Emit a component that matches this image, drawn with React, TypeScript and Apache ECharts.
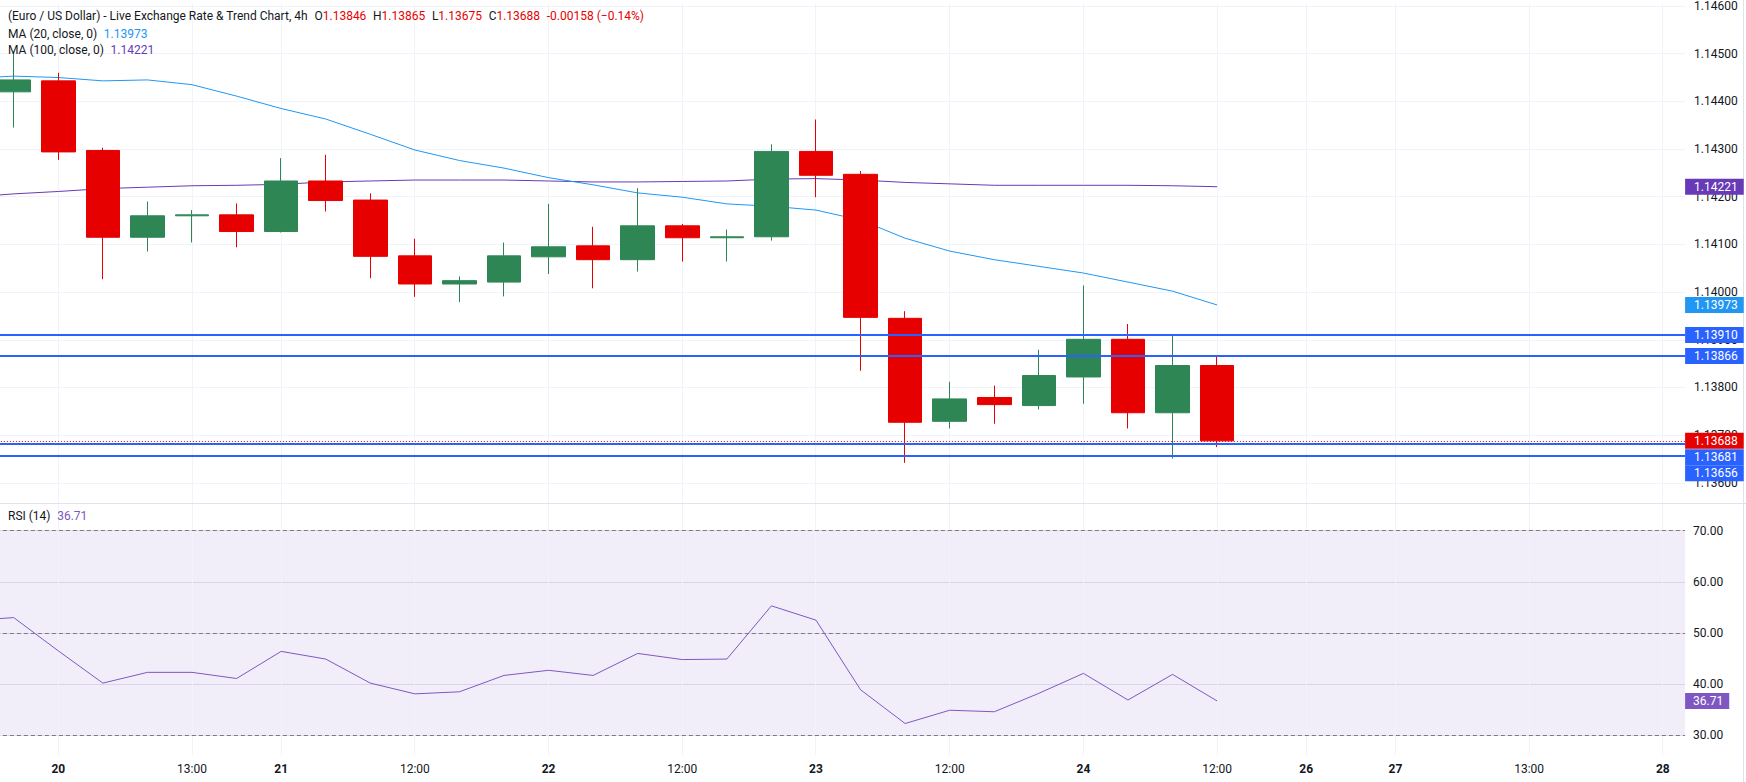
import { useEffect, useRef } from 'react';
import * as echarts from 'echarts';

// ---- data -------------------------------------------------------------
const title = '(Euro / US Dollar) - Live Exchange Rate & Trend Chart, 4h';

// 4h candles, oldest first
const opens = [1.14420, 1.14443, 1.14297, 1.14115, 1.14160, 1.14162, 1.14127, 1.14233, 1.14193, 1.14076,
  1.14017, 1.14021, 1.14074, 1.14097, 1.14068, 1.14139, 1.14114, 1.14116, 1.14295, 1.14247,
  1.13945, 1.13729, 1.13779, 1.13762, 1.13822, 1.13901, 1.13747, 1.13846];
const closes = [1.14445, 1.14294, 1.14115, 1.14160, 1.14162, 1.14127, 1.14233, 1.14192, 1.14075, 1.14017,
  1.14024, 1.14076, 1.14095, 1.14068, 1.14139, 1.14114, 1.14116, 1.14295, 1.14245, 1.13947,
  1.13727, 1.13776, 1.13764, 1.13825, 1.13901, 1.13747, 1.13846, 1.13688];
const lows = [1.14345, 1.14277, 1.14027, 1.14085, 1.14104, 1.14094, 1.14125, 1.14169, 1.14029, 1.13990,
  1.13979, 1.13991, 1.14038, 1.14008, 1.14043, 1.14064, 1.14064, 1.14108, 1.14199, 1.13835,
  1.13642, 1.13714, 1.13724, 1.13754, 1.13766, 1.13714, 1.13651, 1.13675];
const highs = [1.14504, 1.14460, 1.14303, 1.14190, 1.14172, 1.14186, 1.14281, 1.14288, 1.14207, 1.14112,
  1.14033, 1.14104, 1.14185, 1.14137, 1.14218, 1.14143, 1.14131, 1.14310, 1.14362, 1.14254,
  1.13960, 1.13812, 1.13804, 1.13879, 1.14014, 1.13933, 1.13910, 1.13865];

const ma20 = [1.14453, 1.14450, 1.14443, 1.14445, 1.14435, 1.14411, 1.14385, 1.14363, 1.14331, 1.14298,
  1.14276, 1.14260, 1.14240, 1.14225, 1.14208, 1.14199, 1.14185, 1.14180, 1.14172, 1.14151,
  1.14113, 1.14086, 1.14068, 1.14054, 1.14040, 1.14021, 1.14002, 1.13973];
const ma100 = [1.14206, 1.14211, 1.14217, 1.14220, 1.14223, 1.14224, 1.14226, 1.14231, 1.14233, 1.14235,
  1.14235, 1.14235, 1.14233, 1.14231, 1.14231, 1.14232, 1.14233, 1.14237, 1.14238, 1.14235,
  1.14230, 1.14227, 1.14224, 1.14224, 1.14224, 1.14224, 1.14223, 1.14221];
const rsi14 = [53.0, 46.5, 40.2, 42.3, 42.3, 41.1, 46.4, 44.9, 40.2, 38.1,
  38.5, 41.7, 42.7, 41.7, 46.0, 44.8, 44.9, 55.3, 52.5, 38.9,
  32.3, 34.9, 34.6, 38.2, 42.1, 36.9, 41.9, 36.71];

// study values on the bar just before the first candle in view
const ma20Before = 1.14448;
const ma100Before = 1.14199;
const rsiBefore = 52.4;

// horizontal price levels
const levels = [1.13910, 1.13866, 1.13681, 1.13656];

// RSI reference levels
const rsiBands = [70, 50, 30];

// time scale labels (bar index -> text)
const timeTicks = [
  { bar: 1, text: '20', day: true },
  { bar: 4, text: '13:00', day: false },
  { bar: 6, text: '21', day: true },
  { bar: 9, text: '12:00', day: false },
  { bar: 12, text: '22', day: true },
  { bar: 15, text: '12:00', day: false },
  { bar: 18, text: '23', day: true },
  { bar: 21, text: '12:00', day: false },
  { bar: 24, text: '24', day: true },
  { bar: 27, text: '12:00', day: false },
  { bar: 29, text: '26', day: true },
  { bar: 31, text: '27', day: true },
  { bar: 34, text: '13:00', day: false },
  { bar: 37, text: '28', day: true },
];
const futureBars = 10;

// ---- look & layout ----------------------------------------------------
const W = 1746;
const H = 782;
// the chart canvas starts left of the page so the first (partial) bar is cut by the page edge
const LEAD = 60;
const CW = W + LEAD;
const FONT = 'Roboto, "Liberation Sans", Arial, sans-serif';
const TEXT = '#131722';
const UP = '#2e8655';
const DOWN = '#e60000';
const MA20_COLOR = '#2196f3';
const MA100_COLOR = '#673ab7';
const LEVEL_COLOR = '#2962ff';
const RSI_COLOR = '#7e57c2';
const GRID_COLOR = '#f0f3fa';

const BAND = 44.57; // px per bar
const FIRST_BAR_X = 13.73 + LEAD;
const slotCount = 1 + opens.length + futureBars; // one lead slot before bar 0
const gridLeft = FIRST_BAR_X - 1.5 * BAND;
const plotRight = gridLeft + slotCount * BAND;

const priceTop = 0;
const priceHeight = 503;
const priceMin = 1.135577;
const priceMax = 1.146056;
const rsiTop = 504;
const rsiHeight = 251;
const rsiMin = 26.15;
const rsiMax = 75.2;
const TAG_H = 16.3;

const slots = Array.from({ length: slotCount }, (_, i) => String(i - 1));
const tickByIndex: Record<number, { text: string; day: boolean }> = {};
timeTicks.forEach((t) => { tickByIndex[t.bar + 1] = t; });

const fmt5 = (v: number) => v.toFixed(5);

// push overlapping price tags downwards so every tag stays readable
function layoutTags(values: number[]) {
  const toY = (v: number) => priceTop + ((priceMax - v) / (priceMax - priceMin)) * priceHeight;
  const order = values.map((v, i) => ({ i, y: toY(v) })).sort((a, b) => a.y - b.y);
  const shifts: number[] = new Array(values.length).fill(0);
  let lastBottom = -Infinity;
  order.forEach((o) => {
    const y = Math.max(o.y, lastBottom + TAG_H);
    shifts[o.i] = y - o.y;
    lastBottom = y;
  });
  return shifts;
}

function tagLabel(text: string, bg: string, shift: number, padLeft = 9, padRight = 6) {
  return {
    show: true,
    position: 'end',
    distance: 0,
    formatter: `{t|${text}}`,
    padding: [shift * 2, 0, 0, 0],
    rich: {
      t: {
        backgroundColor: bg,
        color: '#ffffff',
        fontSize: 12,
        fontFamily: FONT,
        lineHeight: 16,
        height: 16,
        padding: [0, padRight, 0, padLeft],
      },
    },
  };
}

function gridLines(xAxisIndex: number, yAxisIndex: number) {
  return {
    type: 'custom',
    xAxisIndex,
    yAxisIndex,
    z: 1,
    silent: true,
    encode: { x: 0, y: 1 },
    data: timeTicks.map((t) => [t.bar + 1, 0]),
    renderItem: (params: any, api: any) => {
      const cs = params.coordSys;
      const raw = api.coord([api.value(0), api.value(1)])[0];
      const x = Math.round(raw - 0.5) + 0.5;
      return {
        type: 'line',
        shape: { x1: x, y1: cs.y, x2: x, y2: cs.y + cs.height },
        style: { stroke: GRID_COLOR, lineWidth: 1 },
      };
    },
  };
}

function buildOption() {
  const n = opens.length;
  const last = n - 1;
  const candleData: any[] = ['-'];
  for (let i = 0; i < n; i++) candleData.push([opens[i], closes[i], lows[i], highs[i]]);

  const lastClose = closes[last];
  const prevClose = closes[last - 1];
  const change = lastClose - prevClose;
  const changePct = (change / prevClose) * 100;

  // price-scale tags: MA 100, MA 20, levels, last price
  const tagValues = [ma100[last], ma20[last], ...levels, lastClose];
  const shifts = layoutTags(tagValues);
  const invisible = () => ({ color: 'rgba(0,0,0,0)', width: 0 });

  const priceMarks: any[] = [
    { yAxis: ma100[last], lineStyle: invisible(), label: tagLabel(fmt5(ma100[last]), MA100_COLOR, shifts[0]) },
    { yAxis: ma20[last], lineStyle: invisible(), label: tagLabel(fmt5(ma20[last]), MA20_COLOR, shifts[1]) },
    ...levels.map((v, k) => ({
      yAxis: v,
      lineStyle: { color: LEVEL_COLOR, width: 2, type: 'solid' },
      label: tagLabel(fmt5(v), LEVEL_COLOR, shifts[2 + k]),
    })),
    {
      yAxis: lastClose,
      lineStyle: { color: DOWN, width: 1, type: [1, 2] },
      label: tagLabel(fmt5(lastClose), DOWN, shifts[2 + levels.length]),
    },
  ];

  const line1 =
    `{t|${title}}  {t|O}{v|${fmt5(opens[last])}}  {t|H}{v|${fmt5(highs[last])}}  ` +
    `{t|L}{v|${fmt5(lows[last])}}  {t|C}{v|${fmt5(lastClose)}}  ` +
    `{v|${change < 0 ? '-' : '+'}${Math.abs(change).toFixed(5)} (${change < 0 ? '\u2212' : '+'}${Math.abs(changePct).toFixed(2)}%)}`;

  const richBase = { fontSize: 12, fontFamily: FONT };

  return {
    animation: false,
    backgroundColor: '#ffffff',
    textStyle: { fontFamily: FONT },
    grid: [
      { left: gridLeft, right: CW - plotRight, top: priceTop, height: priceHeight },
      { left: gridLeft, right: CW - plotRight, top: rsiTop, height: rsiHeight },
    ],
    xAxis: [
      {
        type: 'category', gridIndex: 0, data: slots, boundaryGap: true,
        axisLine: { show: false }, axisTick: { show: false }, axisLabel: { show: false }, splitLine: { show: false },
      },
      {
        type: 'category', gridIndex: 1, data: slots, boundaryGap: true,
        axisLine: { show: false }, axisTick: { show: false }, splitLine: { show: false },
        axisLabel: {
          interval: (index: number) => tickByIndex[index] !== undefined,
          formatter: (_v: string, index: number) => {
            const t = tickByIndex[index];
            if (!t) return '';
            return t.day ? `{d|${t.text}}` : `{h|${t.text}}`;
          },
          margin: 8,
          rich: {
            d: { ...richBase, color: TEXT, fontWeight: 'bold' },
            h: { ...richBase, color: TEXT },
          },
        },
      },
    ],
    yAxis: [
      {
        type: 'value', gridIndex: 0, position: 'right', min: priceMin, max: priceMax,
        splitNumber: 10, minInterval: 0.001, maxInterval: 0.001,
        axisLine: { show: false }, axisTick: { show: false },
        axisLabel: {
          color: TEXT, fontSize: 12, fontFamily: FONT, margin: 9,
          showMinLabel: false, showMaxLabel: false,
          formatter: (v: number) => v.toFixed(5),
        },
        splitLine: { show: true, showMinLine: false, showMaxLine: false, lineStyle: { color: GRID_COLOR, width: 1 } },
      },
      {
        type: 'value', gridIndex: 1, position: 'right', min: rsiMin, max: rsiMax,
        splitNumber: 5, minInterval: 10, maxInterval: 10,
        axisLine: { show: false }, axisTick: { show: false },
        axisLabel: {
          color: TEXT, fontSize: 12, fontFamily: FONT, margin: 8,
          showMinLabel: false, showMaxLabel: false,
          formatter: (v: number) => v.toFixed(2),
        },
        splitLine: { show: true, showMinLine: false, showMaxLine: false, lineStyle: { color: '#e6e1f0', width: 1 } },
      },
    ],
    series: [
      gridLines(0, 0),
      gridLines(1, 1),
      {
        name: 'MA 100',
        type: 'line', xAxisIndex: 0, yAxisIndex: 0, z: 3,
        data: [ma100Before, ...ma100],
        showSymbol: false, symbol: 'none', silent: true,
        lineStyle: { color: MA100_COLOR, width: 1 },
      },
      {
        name: 'MA 20',
        type: 'line', xAxisIndex: 0, yAxisIndex: 0, z: 3,
        data: [ma20Before, ...ma20],
        showSymbol: false, symbol: 'none', silent: true,
        lineStyle: { color: MA20_COLOR, width: 1 },
      },
      {
        name: 'EUR/USD',
        type: 'candlestick', xAxisIndex: 0, yAxisIndex: 0, z: 4,
        data: candleData,
        barWidth: 34,
        silent: true,
        itemStyle: { color: UP, color0: DOWN, borderColor: UP, borderColor0: DOWN, borderWidth: 1 },
      },
      {
        name: 'Levels',
        type: 'line', xAxisIndex: 0, yAxisIndex: 0, z: 5,
        data: [],
        silent: true,
        markLine: { silent: true, precision: 5, symbol: ['none', 'none'], data: priceMarks },
      },
      {
        name: 'RSI 14',
        type: 'line', xAxisIndex: 1, yAxisIndex: 1, z: 3,
        data: [rsiBefore, ...rsi14],
        showSymbol: false, symbol: 'none', silent: true,
        lineStyle: { color: RSI_COLOR, width: 1 },
        markArea: {
          silent: true,
          itemStyle: { color: 'rgba(126,87,194,0.1)' },
          data: [[{ yAxis: rsiBands[0] }, { yAxis: rsiBands[rsiBands.length - 1] }]],
        },
        markLine: {
          silent: true, precision: 2, symbol: ['none', 'none'],
          data: [
            ...rsiBands.map((v) => ({
              yAxis: v,
              lineStyle: { color: '#787b86', width: 1, type: [4, 3] },
              label: { show: false },
            })),
            { yAxis: rsi14[last], lineStyle: invisible(), label: tagLabel(rsi14[last].toFixed(2), RSI_COLOR, 0, 8, 6) },
          ],
        },
      },
    ],
    graphic: [
      { type: 'line', silent: true, shape: { x1: LEAD, y1: rsiTop - 0.5, x2: CW, y2: rsiTop - 0.5 }, style: { stroke: '#e0e3eb', lineWidth: 1 } },
      { type: 'line', silent: true, shape: { x1: CW - 2.5, y1: 0, x2: CW - 2.5, y2: H }, style: { stroke: '#e0e3eb', lineWidth: 1 } },
      {
        type: 'text', x: LEAD + 8, y: 15.7, silent: true, z: 10,
        style: {
          text: line1, verticalAlign: 'middle',
          rich: { t: { ...richBase, fill: TEXT }, v: { ...richBase, fill: DOWN } },
        },
      },
      {
        type: 'text', x: LEAD + 8, y: 33.5, silent: true, z: 10,
        style: {
          text: `{t|MA (20, close, 0)}  {v|${fmt5(ma20[last])}}`, verticalAlign: 'middle',
          rich: { t: { ...richBase, fill: TEXT }, v: { ...richBase, fill: MA20_COLOR } },
        },
      },
      {
        type: 'text', x: LEAD + 8, y: 50, silent: true, z: 10,
        style: {
          text: `{t|MA (100, close, 0)}  {v|${fmt5(ma100[last])}}`, verticalAlign: 'middle',
          rich: { t: { ...richBase, fill: TEXT }, v: { ...richBase, fill: MA100_COLOR } },
        },
      },
      {
        type: 'text', x: LEAD + 8, y: 515.6, silent: true, z: 10,
        style: {
          text: `{t|RSI (14)}  {v|${rsi14[last].toFixed(2)}}`, verticalAlign: 'middle',
          rich: { t: { ...richBase, fill: TEXT }, v: { ...richBase, fill: RSI_COLOR } },
        },
      },
    ],
  };
}

export default function App() {
  const ref = useRef<HTMLDivElement>(null);
  useEffect(() => {
    document.body.style.margin = '0';
    if (!ref.current) return;
    const chart = echarts.init(ref.current, null, { renderer: 'svg' });
    chart.setOption(buildOption() as any);
    return () => chart.dispose();
  }, []);
  return (
    <div style={{ width: W, height: H, overflow: 'hidden', position: 'relative' }}>
      <div ref={ref} style={{ width: CW, height: H, position: 'absolute', left: -LEAD, top: 0 }} />
    </div>
  );
}
